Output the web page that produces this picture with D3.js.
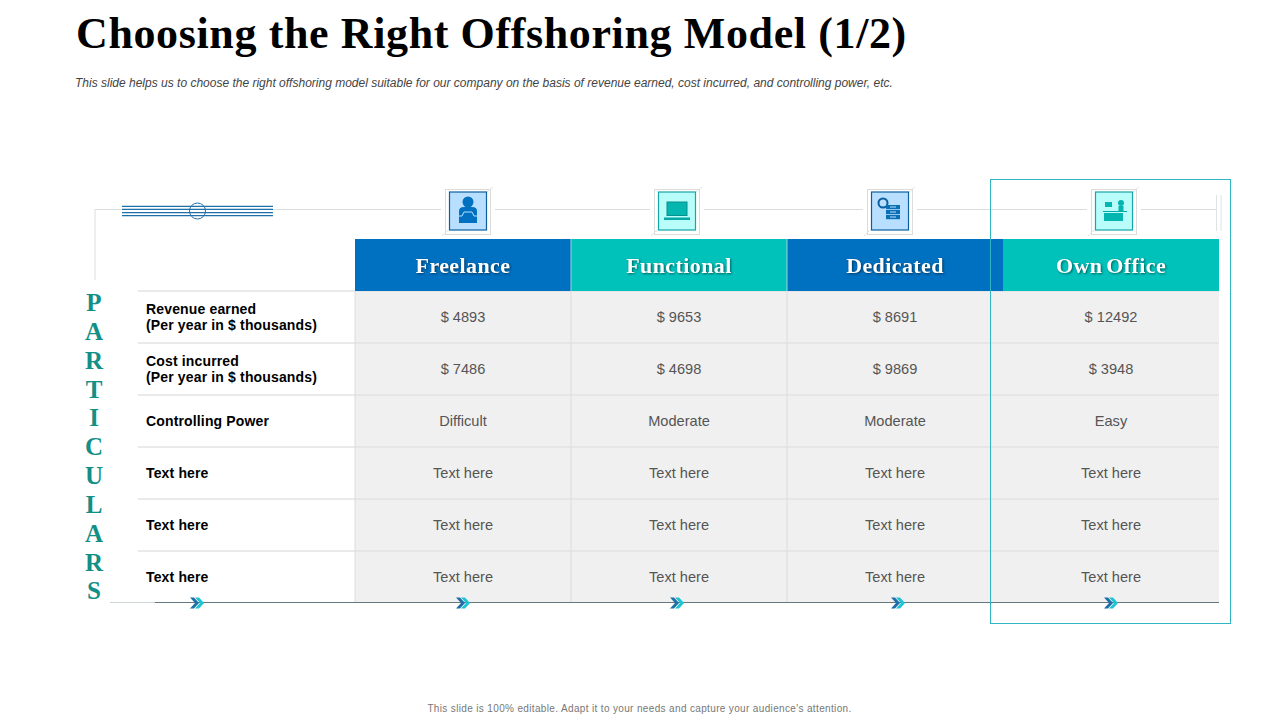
<!DOCTYPE html>
<html>
<head>
<meta charset="utf-8">
<script src="https://cdn.jsdelivr.net/npm/d3@7"></script>
<style>
  html, body { margin: 0; padding: 0; background: #fff; }
  svg { display: block; }
  text { font-family: "Liberation Sans", Arial, sans-serif; }
  .serif { font-family: "Liberation Serif", serif; font-weight: bold; }
</style>
</head>
<body>
<svg id="chart" width="1280" height="720"></svg>
<script>
const models = ['Freelance', 'Functional', 'Dedicated', 'Own Office']
const rowLabels = [
  ['Revenue earned', '(Per year in $ thousands)'],
  ['Cost incurred', '(Per year in $ thousands)'],
  ['Controlling Power'],
  ['Text here'],
  ['Text here'],
  ['Text here']
]
const freelance = ['$ 4893', '$ 7486', 'Difficult', 'Text here', 'Text here', 'Text here']
const functional = ['$ 9653', '$ 4698', 'Moderate', 'Text here', 'Text here', 'Text here']
const dedicated = ['$ 8691', '$ 9869', 'Moderate', 'Text here', 'Text here', 'Text here']
const ownOffice = ['$ 12492', '$ 3948', 'Easy', 'Text here', 'Text here', 'Text here']
const sideLetters = 'PARTICULARS'.split('')

const columns = [freelance, functional, dedicated, ownOffice]
const BLUE = '#0070c0', TEAL = '#00c2bb', NAVY = '#1f6fa8'

const svg = d3.select('#chart')
const x = d3.scaleBand().domain(models).range([355, 1219])
const y = d3.scaleBand().domain(d3.range(rowLabels.length)).range([291, 603])
const side = d3.scaleBand().domain(d3.range(sideLetters.length)).range([288, 605])

// title block
svg.append('text').attr('class', 'serif').attr('x', 76).attr('y', 48)
  .attr('font-size', 44).attr('letter-spacing', 0.62).attr('fill', '#000')
  .text('Choosing the Right Offshoring Model (1/2)')
svg.append('text').attr('x', 75).attr('y', 87)
  .attr('font-size', 12).attr('font-style', 'italic').attr('fill', '#444')
  .text('This slide helps us to choose the right offshoring model suitable for our company on the basis of revenue earned, cost incurred, and controlling power, etc.')

// grey frame line behind the icons
svg.append('path').attr('d', 'M95,280V209.5H1216')
  .attr('fill', 'none').attr('stroke', '#d9dde0').attr('stroke-width', 1)
svg.append('path').attr('d', 'M1216.5,195V231M1221,195V231')
  .attr('fill', 'none').attr('stroke', '#dfe2e4').attr('stroke-width', 1)

// striped bar with the ring
svg.selectAll('line.stripe').data([206.3, 209.4, 212.6, 215.6]).enter()
  .append('line').attr('class', 'stripe')
  .attr('x1', 122).attr('x2', 273).attr('y1', d => d).attr('y2', d => d)
  .attr('stroke', NAVY).attr('stroke-width', 1.3)
svg.append('circle').attr('cx', 197.5).attr('cy', 211).attr('r', 8)
  .attr('fill', 'none').attr('stroke', NAVY).attr('stroke-width', 1)

// body cells
const cols = svg.selectAll('g.col').data(columns).enter().append('g').attr('class', 'col')
  .attr('transform', (d, i) => `translate(${x(models[i])},0)`)
cols.selectAll('rect').data(d => d).enter().append('rect')
  .attr('y', (d, i) => y(i)).attr('width', x.bandwidth()).attr('height', y.bandwidth())
  .attr('fill', '#f0f0f0')
cols.selectAll('text').data(d => d).enter().append('text')
  .attr('x', x.bandwidth() / 2).attr('y', (d, i) => y(i) + y.bandwidth() / 2)
  .attr('dy', '0.35em').attr('text-anchor', 'middle')
  .attr('font-size', 14.6).attr('fill', '#555')
  .text(d => d)

// separators
svg.selectAll('line.rowline').data(d3.range(rowLabels.length)).enter()
  .append('line').attr('class', 'rowline')
  .attr('x1', 138).attr('x2', 1219).attr('y1', d => y(d)).attr('y2', d => y(d))
  .attr('stroke', '#e3e3e3').attr('stroke-width', 1.4)
svg.selectAll('line.colline').data(models.slice(0, 3)).enter()
  .append('line').attr('class', 'colline')
  .attr('x1', d => x(d)).attr('x2', d => x(d)).attr('y1', 291).attr('y2', 603)
  .attr('stroke', '#dcdcdc').attr('stroke-width', 1)

// header band
svg.selectAll('rect.head').data(models).enter().append('rect').attr('class', 'head')
  .attr('x', d => x(d)).attr('y', 239).attr('width', x.bandwidth()).attr('height', 52)
  .attr('fill', (d, i) => i % 2 ? TEAL : BLUE)
svg.selectAll('line.headgap').data(models.slice(1, 3)).enter().append('line').attr('class', 'headgap')
  .attr('x1', d => x(d)).attr('x2', d => x(d)).attr('y1', 239).attr('y2', 291)
  .attr('stroke', '#9fd0dc').attr('stroke-width', 1)
svg.selectAll('text.head').data(models).enter().append('text').attr('class', 'head serif')
  .attr('x', d => x(d) + x.bandwidth() / 2).attr('y', 273)
  .attr('text-anchor', 'middle').attr('font-size', 22).attr('letter-spacing', 0.4)
  .attr('word-spacing', -2).attr('fill', '#fff')
  .style('filter', 'drop-shadow(1px 1px 1px rgba(0,0,0,.5))')
  .text(d => d)

// row labels
const labels = svg.selectAll('text.rowlabel').data(rowLabels).enter().append('text')
  .attr('class', 'rowlabel').attr('font-size', 14).attr('font-weight', 'bold')
  .attr('letter-spacing', 0.15).attr('fill', '#000')
labels.selectAll('tspan').data(d => d).enter().append('tspan')
  .attr('x', 146)
  .attr('y', function (d, i) {
    const row = rowLabels.indexOf(this.parentNode.__data__)
    const lines = this.parentNode.__data__.length
    return y(row) + y.bandwidth() / 2 + 5 + (i - (lines - 1) / 2) * 16
  })
  .text(d => d)

// vertical word
svg.selectAll('text.side').data(sideLetters).enter().append('text')
  .attr('class', 'side serif')
  .attr('x', 94).attr('y', (d, i) => side(i) + side.bandwidth() / 2)
  .attr('dy', '0.35em').attr('text-anchor', 'middle')
  .attr('font-size', 25).attr('fill', '#128f86')
  .text(d => d)

// bottom rule + chevrons
svg.append('line').attr('x1', 110).attr('x2', 156).attr('y1', 602.5).attr('y2', 602.5)
  .attr('stroke', '#cfd4d6').attr('stroke-width', 1)
svg.append('line').attr('x1', 155).attr('x2', 1219).attr('y1', 602.5).attr('y2', 602.5)
  .attr('stroke', '#66787f').attr('stroke-width', 1)

const chevronAt = [197, x(models[0]) + 108, x(models[1]) + 106, x(models[2]) + 111, x(models[3]) + 108]
const chevrons = svg.selectAll('g.chevron').data(chevronAt).enter().append('g')
  .attr('class', 'chevron').attr('transform', d => `translate(${d},603)`)
chevrons.append('path').attr('d', 'M-7,-5.5H-3L2,0L-3,5.5H-7L-2,0Z').attr('fill', NAVY)
chevrons.append('path').attr('d', 'M-2,-5.5H2L7,0L2,5.5H-2L3,0Z').attr('fill', '#1cc4d4')

// outline around the last column
svg.append('rect').attr('x', 990.5).attr('y', 179.5).attr('width', 240).attr('height', 444)
  .attr('fill', 'none').attr('stroke', '#2fb6c2').attr('stroke-width', 1)

// icon tiles
const iconOffset = [5, -2, -5, 3]
const tiles = svg.selectAll('g.tile').data(models).enter().append('g')
  .attr('class', 'tile')
  .attr('transform', (d, i) => `translate(${x(d) + x.bandwidth() / 2 + iconOffset[i]},212)`)
tiles.append('rect').attr('x', -27).attr('y', -23).attr('width', 54).attr('height', 46).attr('fill', '#fff')
tiles.append('rect').attr('x', -22.5).attr('y', -22.5).attr('width', 45).attr('height', 45)
  .attr('fill', '#fff').attr('stroke', '#dcdcdc')
tiles.append('path').attr('d', 'M-26,24L-20,18M19,-20L25,-25')
  .attr('stroke', '#e2e2e2').attr('fill', 'none')
tiles.append('rect').attr('x', -18.5).attr('y', -20).attr('width', 37).attr('height', 38)
  .attr('fill', (d, i) => i % 2 ? '#b8fdf9' : '#b8dfff')
  .attr('stroke', (d, i) => i % 2 ? '#16a6a6' : '#0b5f9e').attr('stroke-width', 1.2)

const person = d3.select(tiles.nodes()[0])
person.append('circle').attr('cy', -10).attr('r', 5.5).attr('fill', BLUE)
person.append('path').attr('d', 'M-9,11V-1Q-9,-5 -4,-5H4Q9,-5 9,-1V11Z').attr('fill', BLUE)
person.append('path').attr('d', 'M-9,4H-6L-4,0H4L6,4H9').attr('fill', 'none').attr('stroke', '#b8dfff').attr('stroke-width', 1)

const screen = d3.select(tiles.nodes()[1])
screen.append('rect').attr('x', -10).attr('y', -10).attr('width', 20).attr('height', 13.5).attr('fill', '#05b5b0').attr('stroke', '#078f8c')
screen.append('rect').attr('x', -13).attr('y', 5.5).attr('width', 26).attr('height', 2.5).attr('fill', '#05a8a4')

const racks = d3.select(tiles.nodes()[2])
racks.append('circle').attr('cx', -7).attr('cy', -9).attr('r', 4.5).attr('fill', 'none').attr('stroke', '#0b5f9e').attr('stroke-width', 2)
racks.selectAll('rect.rack').data([-7, -2, 3]).enter().append('rect').attr('class', 'rack')
  .attr('x', -4).attr('y', d => d).attr('width', 14).attr('height', 4.2).attr('fill', '#0b6fb5')
racks.selectAll('rect.slot').data([-5.5, -0.5, 4.5]).enter().append('rect').attr('class', 'slot')
  .attr('x', 0).attr('y', d => d).attr('width', 6).attr('height', 1).attr('fill', '#b8dfff')

const desk = d3.select(tiles.nodes()[3])
desk.append('rect').attr('x', -9).attr('y', -10).attr('width', 7).attr('height', 5).attr('fill', '#05b5b0')
desk.append('circle').attr('cx', 7).attr('cy', -9).attr('r', 3).attr('fill', '#05b5b0')
desk.append('rect').attr('x', 4.5).attr('y', -6).attr('width', 5).attr('height', 5).attr('fill', '#05b5b0')
desk.append('rect').attr('x', -11).attr('y', -1).attr('width', 24).attr('height', 1).attr('fill', '#05a8a4')
desk.append('rect').attr('x', -10).attr('y', 1).attr('width', 19).attr('height', 8).attr('fill', '#05b5b0')

// footer
svg.append('text').attr('x', 639.5).attr('y', 712).attr('text-anchor', 'middle')
  .attr('font-size', 10).attr('letter-spacing', 0.35).attr('fill', '#777')
  .text("This slide is 100% editable. Adapt it to your needs and capture your audience's attention.")
</script>
</body>
</html>
